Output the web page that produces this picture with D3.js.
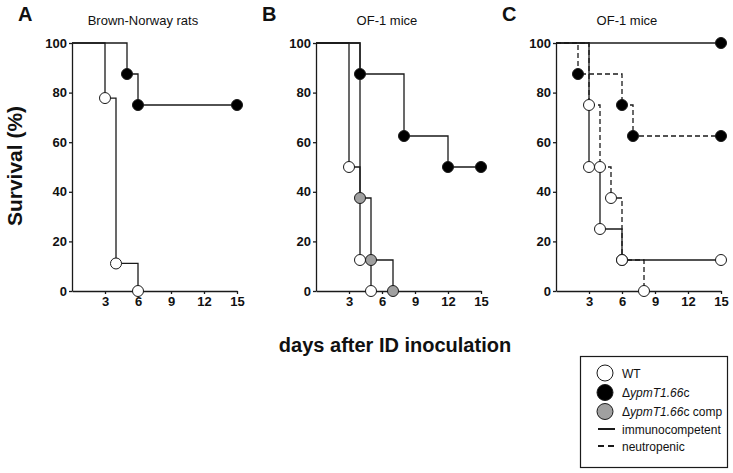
<!DOCTYPE html>
<html>
<head>
<meta charset="utf-8">
<style>
  body { margin: 0; background: #fff; }
  text { font-family: "Liberation Sans", Arial, sans-serif; fill: #111; }
</style>
</head>
<body>
<svg class="chart"></svg>

<script src="https://d3js.org/d3.v7.min.js"></script>
<script>
// survival curves: event days and survival (%) after each event
const aWtDays = [3, 4, 6],        aWtSurv = [77.8, 11.1, 0];
const aDelDays = [5, 6, 15],      aDelSurv = [87.5, 75, 75];

const bWtDays = [3, 4, 5],        bWtSurv = [50, 12.5, 0];
const bDelDays = [4, 8, 12, 15],  bDelSurv = [87.5, 62.5, 50, 50];
const bCompDays = [4, 5, 7],      bCompSurv = [37.5, 12.5, 0];

const cWtDays = [3, 4, 6, 15],        cWtSurv = [50, 25, 12.5, 12.5];
const cWtNeuDays = [3, 4, 5, 6, 8],   cWtNeuSurv = [75, 50, 37.5, 12.5, 0];
const cDelDays = [15],                cDelSurv = [100];
const cDelNeuDays = [2, 6, 7, 15],    cDelNeuSurv = [87.5, 75, 62.5, 62.5];

const xTicks = [3, 6, 9, 12, 15];
const yTicks = [0, 20, 40, 60, 80, 100];

const panelLetters = ["A", "B", "C"];
const panelTitles = ["Brown-Norway rats", "OF-1 mice", "OF-1 mice"];

const fills = {wt: "#fff", del: "#000", comp: "#a0a0a0"};

const panels = [
  {x0: 72, curves: [
    {days: aWtDays, surv: aWtSurv, kind: "wt", dash: false},
    {days: aDelDays, surv: aDelSurv, kind: "del", dash: false}]},
  {x0: 316, curves: [
    {days: bWtDays, surv: bWtSurv, kind: "wt", dash: false},
    {days: bCompDays, surv: bCompSurv, kind: "comp", dash: false},
    {days: bDelDays, surv: bDelSurv, kind: "del", dash: false}]},
  {x0: 556, curves: [
    {days: cWtNeuDays, surv: cWtNeuSurv, kind: "wt", dash: true},
    {days: cDelNeuDays, surv: cDelNeuSurv, kind: "del", dash: true},
    {days: cWtDays, surv: cWtSurv, kind: "wt", dash: false},
    {days: cDelDays, surv: cDelSurv, kind: "del", dash: false}]}
];

width = 733
height = 473
ink = "#1a1a1a"

const svg = d3.select("svg")
    .attr("width", width)
    .attr("height", height)
    .attr("viewBox", [0, 0, width, height]);

y = d3.scaleLinear().domain([0, 100]).range([291, 43]);

panels.forEach((p, i) => {
  const x = d3.scaleLinear().domain([0, 15]).range([p.x0, p.x0 + 165]);
  const g = svg.append("g");

  g.append("g")
      .attr("transform", `translate(0,${y(0)})`)
      .call(d3.axisBottom(x).tickValues(xTicks).tickSize(3).tickSizeOuter(0).tickPadding(3))
      .call(ax => ax.selectAll("path, line").attr("stroke", ink).attr("stroke-width", 1.3))
      .call(ax => ax.selectAll("text").attr("font-size", 13).attr("font-weight", "bold")
          .attr("font-family", "Liberation Sans, Arial, sans-serif").attr("fill", "#111"));

  g.append("g")
      .attr("transform", `translate(${p.x0},0)`)
      .call(d3.axisLeft(y).tickValues(yTicks).tickSize(3).tickSizeOuter(0).tickPadding(2))
      .call(ax => ax.selectAll("path, line").attr("stroke", ink).attr("stroke-width", 1.3))
      .call(ax => ax.selectAll("text").attr("font-size", 13).attr("font-weight", "bold")
          .attr("font-family", "Liberation Sans, Arial, sans-serif").attr("fill", "#111"));

  const line = d3.line()
      .x(d => x(d[0]))
      .y(d => y(d[1]))
      .curve(d3.curveStepAfter);

  p.curves.forEach(c => {
    const pts = [[0, 100]].concat(c.days.map((d, k) => [d, c.surv[k]]));
    g.append("path")
        .attr("d", line(pts))
        .attr("fill", "none")
        .attr("stroke", ink)
        .attr("stroke-width", 1.3)
        .attr("stroke-dasharray", c.dash ? "5,3" : null);
  });

  p.curves.forEach(c => {
    g.selectAll(null)
      .data(c.days.map((d, k) => [d, c.surv[k]]))
      .join("circle")
        .attr("cx", d => x(d[0]))
        .attr("cy", d => y(d[1]))
        .attr("r", 5.5)
        .attr("fill", fills[c.kind])
        .attr("stroke", ink)
        .attr("stroke-width", 1);
  });

  g.append("text")
      .attr("x", p.x0 - 54)
      .attr("y", 21)
      .attr("font-size", 20)
      .attr("font-weight", "bold")
      .text(panelLetters[i]);

  g.append("text")
      .attr("x", x(6.45))
      .attr("y", 25)
      .attr("text-anchor", "middle")
      .attr("font-size", 13)
      .text(panelTitles[i]);
});

svg.append("text")
    .attr("transform", "translate(22,166) rotate(-90)")
    .attr("text-anchor", "middle")
    .attr("font-size", 21)
    .attr("font-weight", "bold")
    .text("Survival (%)");

svg.append("text")
    .attr("x", 395)
    .attr("y", 352)
    .attr("text-anchor", "middle")
    .attr("font-size", 20)
    .attr("font-weight", "bold")
    .text("days after ID inoculation");

// legend
const leg = svg.append("g");
leg.append("rect")
    .attr("x", 580.5).attr("y", 356.5)
    .attr("width", 147).attr("height", 111)
    .attr("fill", "#fff").attr("stroke", ink).attr("stroke-width", 1.2);

const legRows = [
  {y: 373, kind: "wt", label: [["WT", false]]},
  {y: 392.5, kind: "del", label: [["\u0394", false], ["ypmT1.66", true], ["c", false]]},
  {y: 411.5, kind: "comp", label: [["\u0394", false], ["ypmT1.66", true], ["c comp", false]]},
  {y: 429, line: "solid", label: [["immunocompetent", false]]},
  {y: 446, line: "dash", label: [["neutropenic", false]]}
];

legRows.forEach(r => {
  if (r.kind) {
    leg.append("circle")
        .attr("cx", 605).attr("cy", r.y).attr("r", 8)
        .attr("fill", fills[r.kind]).attr("stroke", ink).attr("stroke-width", 1);
  } else {
    leg.append("line")
        .attr("x1", 598).attr("x2", 615)
        .attr("y1", r.y).attr("y2", r.y)
        .attr("stroke", ink).attr("stroke-width", 2)
        .attr("stroke-dasharray", r.line === "dash" ? "6,4" : null);
  }
  const t = leg.append("text")
      .attr("x", 622).attr("y", r.y + 4.5)
      .attr("font-size", 12);
  r.label.forEach(([s, it]) => {
    t.append("tspan").attr("font-style", it ? "italic" : "normal").text(s);
  });
});
</script>
</body>
</html>
